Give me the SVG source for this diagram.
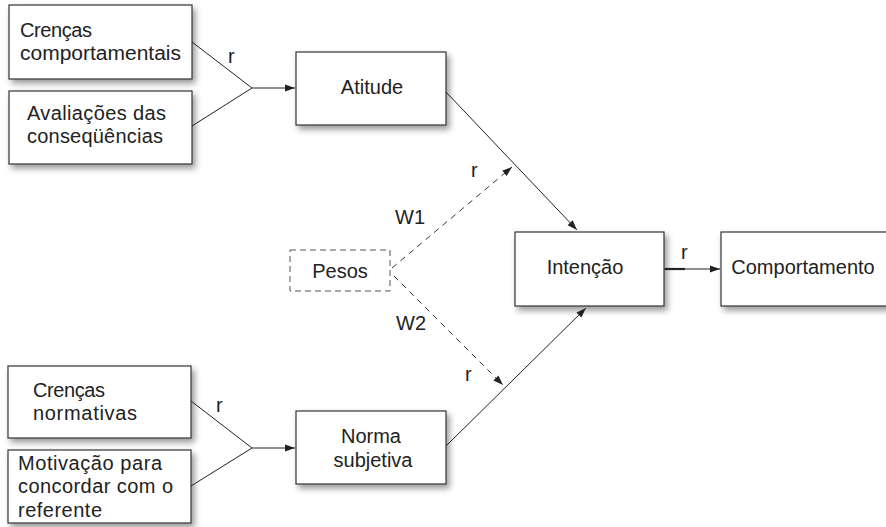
<svg xmlns="http://www.w3.org/2000/svg" width="886" height="527" viewBox="0 0 886 527">
<style>
text{font-family:"Liberation Sans",Arial,sans-serif;font-size:20px;fill:#222}
.box{fill:#fff;stroke:#333;stroke-width:1.2;filter:url(#sh)}
.dbox{fill:#fff;stroke:#555;stroke-width:1;stroke-dasharray:6 4}
.ln{fill:none;stroke:#222;stroke-width:1}
.dl{fill:none;stroke:#333;stroke-width:1;stroke-dasharray:6 5}
.c{text-anchor:middle}
</style>
<defs>
<filter id="sh" x="-10%" y="-10%" width="125%" height="140%">
<feDropShadow dx="3" dy="4" stdDeviation="3" flood-color="#000" flood-opacity="0.4"/>
</filter>
<marker id="ar" viewBox="0 0 10 10" refX="10" refY="5" markerWidth="10" markerHeight="10" markerUnits="userSpaceOnUse" orient="auto">
<path d="M0,1.5 L10,5 L0,8.5 Z" fill="#222"/>
</marker>
</defs>
<g id="crencas-comportamentais">
<rect class="box" x="9" y="5" width="183" height="74"/>
<text x="20" y="37" textLength="72">Crenças</text>
<text x="20" y="60" textLength="161" lengthAdjust="spacingAndGlyphs">comportamentais</text>
</g>
<g id="avaliacoes">
<rect class="box" x="9" y="91" width="183" height="73"/>
<text x="27" y="120" textLength="139">Avaliações das</text>
<text x="27" y="143" textLength="136">conseqüências</text>
</g>
<g id="atitude">
<rect class="box" x="296" y="52" width="150" height="73"/>
<text class="c" x="372" y="94">Atitude</text>
</g>
<g id="pesos">
<rect class="dbox" x="290" y="250" width="100" height="41"/>
<text class="c" x="340" y="278">Pesos</text>
</g>
<g id="intencao">
<rect class="box" x="515" y="232" width="149" height="74"/>
<text class="c" x="585" y="274">Intenção</text>
</g>
<g id="comportamento">
<rect class="box" x="721" y="232" width="170" height="74"/>
<text class="c" x="803" y="274">Comportamento</text>
</g>
<g id="crencas-normativas">
<rect class="box" x="8" y="366" width="183" height="72"/>
<text x="33" y="397" textLength="72">Crenças</text>
<text x="33" y="420" textLength="104">normativas</text>
</g>
<g id="motivacao">
<rect class="box" x="8" y="450" width="183" height="73"/>
<text x="18" y="470" textLength="144">Motivação para</text>
<text x="18" y="493" textLength="155">concordar com o</text>
<text x="18" y="517" textLength="84">referente</text>
</g>
<g id="norma-subjetiva">
<rect class="box" x="296" y="411" width="150" height="73"/>
<text class="c" x="371" y="443">Norma</text>
<text class="c" x="373" y="467">subjetiva</text>
</g>
<g id="connectors">
<path class="ln" d="M192,42 L252,88 L192,126"/>
<path class="ln" d="M252,88 L295,88" marker-end="url(#ar)"/>
<text x="228" y="63">r</text>
<path class="ln" d="M191,401 L252,448 L191,486"/>
<path class="ln" d="M252,448 L295,448" marker-end="url(#ar)"/>
<text x="216" y="412">r</text>
<path class="ln" d="M446,92 L577,230" marker-end="url(#ar)"/>
<path class="ln" d="M446,446 L586,308" marker-end="url(#ar)"/>
<path class="dl" d="M392,268 L512,167" marker-end="url(#ar)"/>
<path class="dl" d="M394,276 L503,385" marker-end="url(#ar)"/>
<text x="395" y="224">W1</text>
<text x="471" y="177">r</text>
<text x="396" y="330">W2</text>
<text x="465" y="381">r</text>
<path class="ln" d="M664,269 L720,269" marker-end="url(#ar)"/>
<path d="M665,269 L685,269" stroke="#222" stroke-width="2.2"/>
<text x="681" y="259">r</text>
</g>
</svg>
